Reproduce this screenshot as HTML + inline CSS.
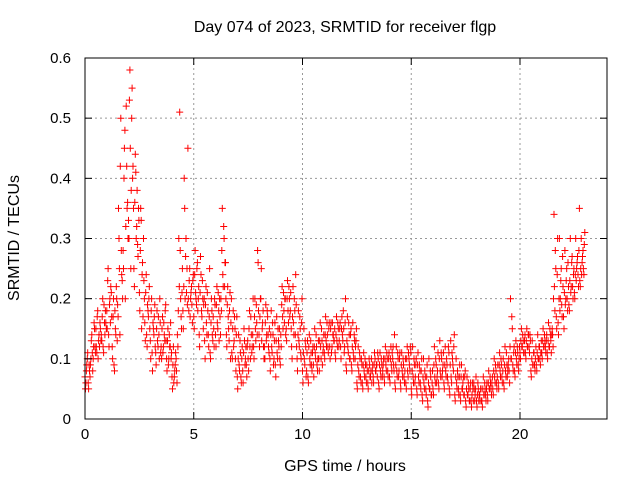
<!DOCTYPE html>
<html><head><meta charset="utf-8"><style>
body{margin:0;background:#fff}
svg{display:block;font-family:"Liberation Sans",sans-serif}
</style></head><body>
<svg id="chart" width="640" height="480">
<text x="345" y="32" font-size="16" text-anchor="middle">Day 074 of 2023, SRMTID for receiver flgp</text>
<text x="345" y="471" font-size="16" text-anchor="middle">GPS time / hours</text>
<text transform="translate(19,238) rotate(-90)" font-size="16" text-anchor="middle">SRMTID / TECUs</text>
<g id="grid"></g>
<g id="marks"></g>
<rect x="85" y="58" width="522" height="361" fill="none" stroke="#000" stroke-width="1"/>
<g id="axes"></g>
</svg>
<script>
const xTicks=[0,5,10,15,20];
const yTicks=[0,0.1,0.2,0.3,0.4,0.5,0.6];
const yTickLabels=["0","0.1","0.2","0.3","0.4","0.5","0.6"];
const binWidth=0.25;
const binStarts=[0,0.25,0.5,0.75,1,1.25,1.5,1.75,2,2.25,2.5,2.75,3,3.25,3.5,3.75,4,4.25,4.5,4.75,5,5.25,5.5,5.75,6,6.25,6.5,6.75,7,7.25,7.5,7.75,8,8.25,8.5,8.75,9,9.25,9.5,9.75,10,10.25,10.5,10.75,11,11.25,11.5,11.75,12,12.25,12.5,12.75,13,13.25,13.5,13.75,14,14.25,14.5,14.75,15,15.25,15.5,15.75,16,16.25,16.5,16.75,17,17.25,17.5,17.75,18,18.25,18.5,18.75,19,19.25,19.5,19.75,20,20.25,20.5,20.75,21,21.25,21.5,21.75,22,22.25,22.5,22.75];
const srmtid=[
[.05,.08,.1,.06,.09,.07],[.1,.14,.08,.12,.15,.11],[.12,.17,.1,.14,.16,.13],[.13,.2,.11,.16,.18,.15],
[.15,.25,.12,.2,.22,.17],[.1,.2,.08,.15,.22,.13],[.17,.3,.14,.5,.24,.2],[.25,.45,.2,.52,.35,.3],
[.3,.58,.25,.5,.4,.35],[.22,.44,.3,.38,.27,.33],[.18,.35,.15,.26,.3,.2],[.13,.24,.12,.18,.2,.15],
[.1,.2,.08,.15,.17,.12],[.09,.18,.12,.14,.2,.11],[.1,.17,.12,.14,.18,.13],[.08,.15,.1,.12,.16,.11],
[.05,.12,.07,.09,.1,.06],[.12,.3,.51,.2,.15,.25],[.15,.4,.2,.3,.25,.45],[.18,.25,.2,.22,.16,.24],
[.15,.28,.2,.25,.18,.22],[.12,.27,.18,.23,.15,.2],[.1,.22,.14,.18,.12,.25],[.1,.2,.14,.17,.12,.19],
[.12,.22,.15,.18,.2,.14],[.18,.35,.22,.3,.26,.2],[.12,.22,.15,.18,.1,.2],[.1,.18,.13,.15,.08,.17],
[.05,.14,.08,.11,.06,.12],[.06,.15,.09,.12,.07,.13],[.08,.18,.1,.14,.12,.2],[.1,.2,.13,.16,.28,.18],
[.12,.2,.25,.15,.18,.1],[.1,.19,.14,.17,.12,.15],[.08,.18,.11,.14,.1,.16],[.07,.17,.1,.13,.15,.09],
[.12,.22,.15,.18,.2,.14],[.13,.23,.16,.2,.18,.15],[.1,.22,.14,.18,.24,.12],[.08,.18,.12,.15,.1,.2],
[.06,.15,.09,.12,.08,.13],[.06,.14,.09,.11,.08,.12],[.07,.15,.1,.12,.08,.13],[.08,.16,.1,.13,.11,.14],
[.1,.17,.12,.14,.11,.16],[.1,.16,.12,.14,.13,.15],[.1,.17,.12,.15,.13,.16],[.1,.17,.13,.15,.12,.2],
[.08,.17,.11,.14,.1,.15],[.08,.16,.1,.13,.12,.15],[.05,.12,.07,.1,.06,.09],[.05,.11,.07,.09,.06,.08],
[.05,.1,.07,.08,.06,.09],[.06,.11,.08,.09,.07,.1],[.05,.11,.07,.09,.08,.1],[.06,.12,.08,.1,.07,.11],
[.06,.12,.08,.1,.09,.14],[.05,.12,.07,.1,.08,.11],[.05,.11,.07,.09,.06,.1],[.05,.12,.07,.1,.08,.11],
[.04,.12,.06,.09,.07,.1],[.04,.11,.06,.08,.05,.1],[.03,.1,.05,.07,.04,.09],[.02,.1,.05,.07,.04,.08],
[.04,.12,.06,.09,.07,.11],[.05,.13,.07,.1,.08,.11],[.05,.12,.07,.09,.06,.11],[.04,.13,.06,.1,.08,.14],
[.03,.1,.05,.07,.04,.09],[.03,.09,.05,.07,.04,.08],[.02,.07,.04,.05,.03,.06],[.02,.06,.03,.05,.04,.07],
[.02,.06,.03,.04,.05,.03],[.02,.07,.04,.05,.03,.06],[.03,.08,.05,.06,.04,.07],[.04,.1,.06,.08,.05,.09],
[.05,.11,.07,.09,.06,.1],[.05,.12,.07,.09,.08,.1],[.06,.2,.1,.15,.08,.12],[.07,.13,.09,.11,.08,.12],
[.1,.15,.12,.13,.11,.14],[.1,.15,.12,.14,.11,.13],[.07,.13,.09,.11,.08,.12],[.08,.14,.1,.12,.09,.13],
[.1,.15,.12,.13,.11,.14],[.1,.16,.12,.14,.11,.15],[.12,.34,.18,.25,.15,.3],[.14,.3,.2,.25,.17,.22],
[.15,.28,.2,.25,.18,.22],[.18,.3,.22,.27,.2,.25],[.2,.3,.25,.27,.22,.35],[.22,.3,.26,.28,.24,.31]
];
const srmtid2=[
[.07,.06,.09,.11,.05,.08],[.09,.13,.11,.1,.16,.12],[.15,.11,.18,.13,.12,.15],[.14,.17,.12,.19,.14,.16],
[.18,.23,.14,.19,.16,.21],[.12,.17,.09,.18,.14,.2],[.19,.35,.25,.42,.28,.23],[.28,.4,.48,.32,.42,.36],
[.33,.53,.45,.38,.55,.42],[.25,.36,.41,.32,.29,.35],[.21,.28,.33,.24,.17,.23],[.16,.21,.14,.19,.17,.22],
[.13,.18,.11,.16,.14,.19],[.11,.15,.13,.17,.1,.16],[.12,.15,.11,.16,.13,.19],[.1,.13,.09,.14,.12,.1],
[.07,.09,.06,.08,.11,.08],[.14,.18,.22,.28,.17,.21],[.18,.22,.35,.27,.21,.19],[.2,.23,.17,.21,.19,.23],
[.17,.24,.21,.19,.26,.2],[.14,.21,.24,.17,.2,.19],[.13,.19,.16,.21,.14,.17],[.11,.16,.18,.13,.15,.2],
[.14,.19,.16,.21,.13,.17],[.2,.28,.24,.32,.22,.26],[.14,.19,.17,.13,.21,.16],[.11,.15,.12,.17,.1,.14],
[.07,.1,.09,.13,.07,.1],[.08,.11,.13,.1,.09,.12],[.1,.15,.12,.17,.11,.14],[.12,.17,.15,.19,.14,.26],
[.14,.17,.2,.13,.16,.12],[.12,.16,.13,.18,.14,.11],[.1,.14,.12,.16,.09,.13],[.09,.13,.11,.15,.12,.1],
[.14,.19,.17,.21,.16,.2],[.15,.2,.18,.22,.17,.21],[.12,.17,.16,.2,.14,.19],[.1,.14,.13,.17,.11,.16],
[.08,.11,.1,.13,.07,.11],[.07,.12,.1,.13,.09,.11],[.09,.12,.11,.14,.09,.1],[.1,.13,.12,.15,.09,.12],
[.11,.14,.13,.16,.12,.15],[.12,.15,.11,.16,.14,.13],[.11,.14,.13,.16,.12,.15],[.12,.15,.14,.18,.11,.16],
[.09,.13,.12,.16,.1,.14],[.09,.12,.11,.14,.1,.13],[.06,.09,.08,.11,.07,.1],[.06,.09,.08,.1,.07,.09],
[.06,.08,.09,.07,.1,.08],[.07,.09,.1,.08,.09,.11],[.06,.09,.08,.1,.07,.09],[.07,.1,.09,.11,.08,.1],
[.07,.1,.09,.11,.12,.08],[.06,.09,.08,.11,.07,.1],[.06,.09,.08,.1,.07,.08],[.06,.1,.08,.11,.09,.12],
[.05,.08,.07,.1,.06,.09],[.05,.09,.07,.09,.06,.08],[.04,.07,.06,.08,.05,.07],[.03,.06,.05,.08,.04,.06],
[.05,.09,.07,.1,.06,.08],[.06,.1,.08,.11,.07,.09],[.06,.09,.08,.1,.07,.12],[.05,.09,.07,.11,.09,.12],
[.04,.07,.06,.08,.05,.07],[.04,.07,.05,.06,.04,.07],[.03,.05,.04,.06,.03,.05],[.03,.04,.05,.06,.03,.05],
[.03,.04,.05,.04,.03,.05],[.03,.05,.04,.06,.04,.05],[.04,.06,.05,.07,.05,.06],[.05,.08,.07,.09,.06,.07],
[.06,.09,.08,.1,.07,.08],[.06,.09,.08,.11,.07,.09],[.08,.12,.1,.17,.09,.11],[.08,.11,.1,.12,.09,.1],
[.11,.13,.12,.14,.11,.13],[.11,.13,.12,.14,.12,.14],[.08,.1,.09,.11,.09,.1],[.09,.11,.1,.12,.1,.11],
[.11,.13,.12,.14,.12,.13],[.11,.13,.12,.15,.13,.14],[.14,.2,.22,.28,.17,.24],[.16,.2,.18,.23,.19,.27],
[.17,.21,.19,.23,.2,.26],[.19,.23,.21,.26,.22,.24],[.21,.24,.23,.26,.24,.28],[.23,.25,.24,.27,.25,.29]
];
const NS="http://www.w3.org/2000/svg";
const L=85,R=607,T=58,B=419,XMAX=24,YMAX=0.6;
const xs=v=>L+v/XMAX*(R-L);
const ys=v=>B-v/YMAX*(B-T);
function mk(tag,attrs,parent){const e=document.createElementNS(NS,tag);for(const k in attrs)e.setAttribute(k,attrs[k]);parent.appendChild(e);return e;}
const grid=document.getElementById('grid'),axes=document.getElementById('axes'),marks=document.getElementById('marks');
xTicks.forEach(t=>{
  const x=xs(t);
  if(t>0){const g=mk('line',{x1:x,y1:T,x2:x,y2:B,stroke:'#999','stroke-dasharray':'2,3'},grid);
  
  }
  mk('line',{x1:x,y1:B,x2:x,y2:B-7,stroke:'#000'},axes);
  mk('line',{x1:x,y1:T,x2:x,y2:T+7,stroke:'#000'},axes);
  const tx=mk('text',{x:x,y:B+20,'font-size':15,'text-anchor':'middle'},axes);
  tx.textContent=String(t);
  
  
});
yTicks.forEach((t,i)=>{
  const y=ys(t);
  if(t>0&&t<YMAX){const g=mk('line',{x1:L,y1:y,x2:R,y2:y,stroke:'#999','stroke-dasharray':'2,3'},grid);
  
  }
  mk('line',{x1:L,y1:y,x2:L+7,y2:y,stroke:'#000'},axes);
  mk('line',{x1:R,y1:y,x2:R-7,y2:y,stroke:'#000'},axes);
  const tx=mk('text',{x:L-14,y:y+5,'font-size':15,'text-anchor':'end'},axes);
  tx.textContent=yTickLabels[i];
  
  
});
function plot(series,offset,color,name){
  let d='';
  binStarts.forEach((b,i)=>{
    const vals=series[i],n=vals.length;
    vals.forEach((v,j)=>{
      const x=xs(b+binWidth*(j+offset)/n),y=ys(v);
      d+=`M${(x-3.5).toFixed(1)} ${y.toFixed(1)}h7M${x.toFixed(1)} ${(y-3.5).toFixed(1)}v7`;
    });
  });
  const p=mk('path',{d:d,stroke:color,'stroke-width':1,fill:'none'},marks);
  
  
}
plot(srmtid2,0.0,'#f00','srmtid-points-b');
plot(srmtid,0.5,'#f00','srmtid-points');
</script>
</body></html>
